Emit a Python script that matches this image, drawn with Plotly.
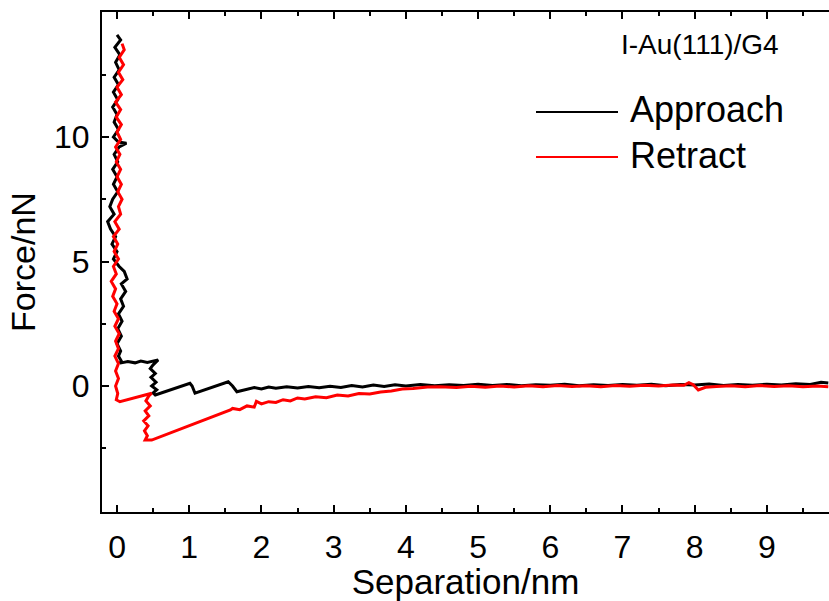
import plotly.graph_objects as go

# Approach (black) trace
approach_x = [0.00, 0.05, -0.03, 0.04, -0.02, 0.03, -0.04, 0.02, -0.05, 0.01, -0.06, 0.00, -0.04, 0.02, -0.05, 0.02, 0.13, 0.03,
              -0.04, 0.01, -0.06, 0.00, -0.05, 0.01, -0.06, -0.10, -0.04, -0.13, -0.09, -0.02, -0.07, 0.00, -0.05, 0.03, 0.10,
              0.14, 0.06, 0.12, 0.05, 0.09, 0.02, 0.07, 0.01, 0.06, 0.00, 0.05, 0.02, 0.06, 0.04,
              0.15, 0.25, 0.33, 0.42, 0.50, 0.57,
              0.50, 0.46, 0.53, 0.47, 0.54, 0.48, 0.55, 0.50, 0.53,
              1.01, 1.04, 1.08, 1.54, 1.60, 1.66,
              1.8, 1.9, 2.0, 2.1, 2.2, 2.35, 2.5, 2.65, 2.8, 2.95, 3.1, 3.25, 3.4, 3.55, 3.7, 3.85, 4.0, 4.2, 4.4, 4.6,
              4.8, 5.0, 5.2, 5.4, 5.6, 5.8, 6.0, 6.2, 6.4, 6.6, 6.8, 7.0, 7.2, 7.4, 7.6, 7.8, 8.0, 8.2, 8.4, 8.6, 8.8,
              9.0, 9.2, 9.4, 9.6, 9.75, 9.85]
approach_y = [14.1, 13.9, 13.6, 13.3, 13.0, 12.7, 12.4, 12.1, 11.8, 11.5, 11.2, 10.9, 10.6, 10.3, 10.0, 9.8, 9.75, 9.6,
              9.3, 9.0, 8.7, 8.4, 8.1, 7.8, 7.5, 7.2, 6.9, 6.6, 6.3, 6.0, 5.7, 5.4, 5.1, 4.8, 4.6,
              4.3, 4.1, 3.8, 3.5, 3.2, 2.9, 2.6, 2.3, 2.0, 1.7, 1.4, 1.2, 1.0, 0.92,
              0.98, 0.93, 1.0, 0.95, 1.02, 1.05,
              0.85, 0.7, 0.5, 0.35, 0.15, 0.0, -0.15, -0.28, -0.36,
              0.11, 0.0, -0.29, 0.17, 0.0, -0.23,
              -0.13, -0.06, -0.12, -0.04, -0.09, -0.03, -0.08, -0.02, -0.07, -0.01, -0.06, 0.02, -0.04, 0.04, -0.02,
              0.05, 0.0, 0.06, 0.01, 0.05, 0.02, 0.07, 0.02, 0.06, 0.01, 0.05, 0.03, 0.07, 0.01, 0.05, 0.02, 0.06,
              0.03, 0.07, 0.01, 0.06, 0.04, 0.08, 0.02, 0.06, 0.03, 0.07, 0.04, 0.09, 0.06, 0.15, 0.12]

# Retract (red) trace
retract_x = [0.07, 0.10, 0.03, 0.09, 0.02, 0.08, 0.00, 0.06, -0.02, 0.05, -0.01, 0.06, 0.00, 0.05, -0.02, 0.04, -0.01,
             0.05, 0.00, 0.06, 0.01, 0.07, 0.02, 0.05, -0.03, 0.03, -0.05, 0.01, -0.04, 0.02, -0.05, -0.01, -0.08,
             -0.02, -0.06, 0.00, -0.04, 0.02, -0.03, 0.03, -0.02, 0.02, -0.03, 0.02, -0.02, 0.02, -0.02, 0.01, -0.01, 0.04,
             0.48,
             0.44, 0.40, 0.46, 0.39, 0.44, 0.37, 0.43, 0.38, 0.42, 0.39, 0.48,
             1.57, 1.6, 1.7, 1.8, 1.9, 1.93, 2.0, 2.1, 2.2, 2.3, 2.4, 2.5, 2.6, 2.75, 2.9, 3.05, 3.2, 3.35, 3.5, 3.65,
             3.8, 3.95, 4.1, 4.3,
             4.47, 4.7, 4.9, 5.1, 5.3, 5.5, 5.7, 5.9, 6.1, 6.3, 6.5, 6.7, 6.9, 7.1, 7.3, 7.5, 7.7, 7.85, 7.92, 7.98,
             8.05, 8.15, 8.3, 8.5, 8.7, 8.9, 9.1, 9.3, 9.5, 9.7, 9.85]
retract_y = [13.75, 13.5, 13.2, 12.9, 12.6, 12.3, 12.0, 11.7, 11.4, 11.1, 10.8, 10.5, 10.2, 9.9, 9.6, 9.3, 9.0,
             8.7, 8.4, 8.1, 7.8, 7.5, 7.2, 6.9, 6.6, 6.3, 6.0, 5.7, 5.4, 5.1, 4.8, 4.5, 4.2,
             3.9, 3.6, 3.3, 3.0, 2.7, 2.4, 2.1, 1.8, 1.5, 1.2, 0.9, 0.6, 0.3, 0.0, -0.3, -0.55, -0.63,
             -0.29,
             -0.4, -0.6, -0.8, -1.0, -1.2, -1.4, -1.6, -1.8, -2.0, -2.17, -2.17,
             -0.96, -0.9, -0.95, -0.8, -0.85, -0.62, -0.72, -0.63, -0.66, -0.55, -0.6, -0.48, -0.52, -0.43, -0.47,
             -0.36, -0.4, -0.3, -0.32, -0.24, -0.2, -0.12, -0.1, -0.04,
             -0.03, -0.06, -0.01, -0.05, 0.0, -0.04, 0.01, -0.03, 0.02, -0.02, 0.01, -0.03, 0.02, -0.01, 0.03, 0.0,
             0.04, 0.03, 0.13, 0.05, -0.16, -0.05, -0.02, 0.01, -0.03, 0.02, -0.02, 0.01, -0.03, 0.0, -0.03]

x_ticks = [0, 1, 2, 3, 4, 5, 6, 7, 8, 9]
y_ticks = [0, 5, 10]
series_names = ["Approach", "Retract"]
series_colors = ["#000000", "#ff0000"]
label_text = "I-Au(111)/G4"

FONT = "Arial, Liberation Sans, sans-serif"

fig = go.Figure()
fig.add_trace(go.Scatter(x=approach_x, y=approach_y, mode="lines", name=series_names[0],
                         line=dict(color=series_colors[0], width=3), showlegend=False))
fig.add_trace(go.Scatter(x=retract_x, y=retract_y, mode="lines", name=series_names[1],
                         line=dict(color=series_colors[1], width=3), showlegend=False))

L, R, T, B = 102, 0, 12, 89
W, H = 829, 601
pw, ph = W - L - R, H - T - B

def px(xp):
    return (xp - L) / pw

def py(yp):
    return (H - B - yp) / ph

# manual legend
for i, (name, col, yy) in enumerate(zip(series_names, series_colors, [112, 157])):
    fig.add_shape(type="line", xref="paper", yref="paper", x0=px(536), x1=px(618), y0=py(yy), y1=py(yy),
                  line=dict(color=col, width=2))
    fig.add_annotation(text=name, xref="paper", yref="paper", x=px(628), y=py(yy - 2), xanchor="left",
                       yanchor="middle", showarrow=False, font=dict(size=36, color="black", family=FONT))

fig.add_annotation(text=label_text, xref="paper", yref="paper", x=px(700), y=py(45), xanchor="center",
                   yanchor="middle", showarrow=False, font=dict(size=28, color="black", family=FONT))

fig.update_layout(
    width=W, height=H,
    margin=dict(l=L, r=R, t=T, b=B),
    plot_bgcolor="white", paper_bgcolor="white",
    font=dict(family=FONT, color="black"),
    xaxis=dict(range=[-0.208, 9.86], tickvals=x_ticks, ticktext=[str(v) for v in x_ticks],
               ticks="inside", ticklen=7, tickwidth=1.5, tickcolor="black",
               minor=dict(tickvals=[v + 0.5 for v in range(-1, 10)], ticks="inside", ticklen=4, tickwidth=1.5,
                          tickcolor="black"),
               showline=True, linecolor="black", linewidth=2, mirror="ticks", showgrid=False, zeroline=False,
               tickfont=dict(size=32), ticklabelstandoff=6,
               title=dict(text="Separation/nm", font=dict(size=35), standoff=4)),
    yaxis=dict(range=[-5.06, 15.02], tickvals=y_ticks, ticktext=[str(v) for v in y_ticks],
               ticks="inside", ticklen=7, tickwidth=1.5, tickcolor="black",
               minor=dict(tickvals=[-2.5, 2.5, 7.5, 12.5], ticks="inside", ticklen=4, tickwidth=1.5,
                          tickcolor="black"),
               showline=True, linecolor="black", linewidth=2, mirror=False, showgrid=False, zeroline=False,
               tickfont=dict(size=32), ticklabelstandoff=4,
               title=dict(text="Force/nN", font=dict(size=34), standoff=8)),
)

fig.write_html("out.html")
